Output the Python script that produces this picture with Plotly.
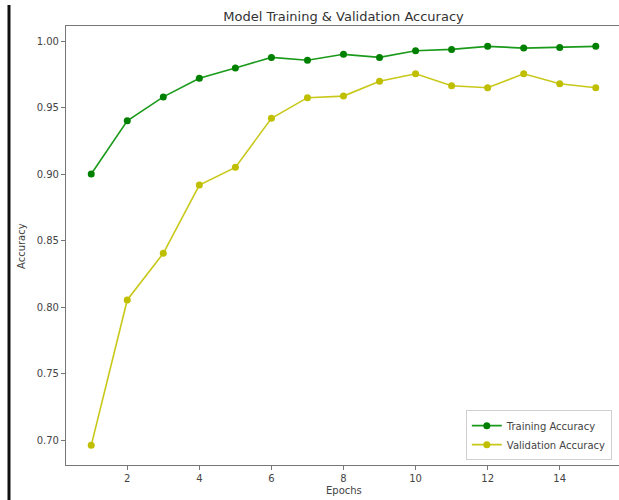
import plotly.graph_objects as go

epochs = list(range(1, 16))
train_acc = [0.900, 0.940, 0.958, 0.972, 0.9797, 0.9877, 0.9855, 0.990, 0.9877,
             0.9927, 0.9937, 0.996, 0.9947, 0.9952, 0.996]
val_acc = [0.696, 0.8053, 0.8404, 0.8917, 0.905, 0.9419, 0.9574, 0.9586, 0.9697,
           0.9754, 0.9664, 0.9649, 0.9754, 0.9679, 0.9649]
x_ticks = [2, 4, 6, 8, 10, 12, 14]
y_ticks = [0.70, 0.75, 0.80, 0.85, 0.90, 0.95, 1.00]

font = "DejaVu Sans, sans-serif"
fig = go.Figure()
fig.add_trace(go.Scatter(x=epochs, y=train_acc, mode="lines+markers",
                         name="Training Accuracy",
                         line=dict(color="#1a9a1a", width=1.6),
                         marker=dict(color="#008000", size=7)))
fig.add_trace(go.Scatter(x=epochs, y=val_acc, mode="lines+markers",
                         name="Validation Accuracy",
                         line=dict(color="#c8c81a", width=1.6),
                         marker=dict(color="#bfbf00", size=7)))

fig.update_layout(
    width=619, height=500,
    margin=dict(l=66, r=0, t=26, b=35),
    paper_bgcolor="white", plot_bgcolor="white",
    font=dict(family=font, size=10, color="#444"),
    title=dict(text="Model Training & Validation Accuracy", x=(343.5) / 619,
               xanchor="center", y=1 - 16 / 500, yanchor="middle",
               font=dict(size=13, color="#333")),
    showlegend=True,
    legend=dict(x=0.987, y=0.011, xanchor="right", yanchor="bottom",
                bordercolor="#d0d0d0", borderwidth=1, bgcolor="white",
                font=dict(size=10, color="#444"), tracegroupgap=0,
                itemwidth=30),
    xaxis=dict(range=[0.3, 15.645], tickvals=x_ticks, showgrid=False,
               zeroline=False, showline=True, linecolor="#777", linewidth=1.2,
               mirror=True, ticks="outside", ticklen=4, tickcolor="#777",
               tickfont=dict(size=10, color="#444")),
    yaxis=dict(range=[0.6812, 1.0113], tickvals=y_ticks, tickformat=".2f",
               showgrid=False, zeroline=False, showline=True, linecolor="#777",
               linewidth=1.2, ticks="outside", ticklen=4, tickcolor="#777",
               tickfont=dict(size=10, color="#444")),
    annotations=[
        dict(text="Epochs", xref="paper", yref="paper", x=(343.5 - 66) / 553,
             y=-(490 - 465) / 439, xanchor="center", yanchor="middle",
             showarrow=False, font=dict(size=10, color="#444")),
        dict(text="Accuracy", xref="paper", yref="paper", x=-(66 - 22) / 553,
             y=(465 - 246) / 439, xanchor="center", yanchor="middle",
             textangle=-90, showarrow=False, font=dict(size=10, color="#444")),
    ],
    shapes=[dict(type="line", xref="paper", yref="paper",
                 x0=-(66 - 9) / 553, x1=-(66 - 9) / 553,
                 y0=-35 / 439, y1=(465 - 5) / 439,
                 line=dict(color="#111", width=3))],
)

fig.write_html("out.html", config={"displayModeBar": False},
               post_script="document.body.style.margin='0';document.body.style.overflow='hidden';")
